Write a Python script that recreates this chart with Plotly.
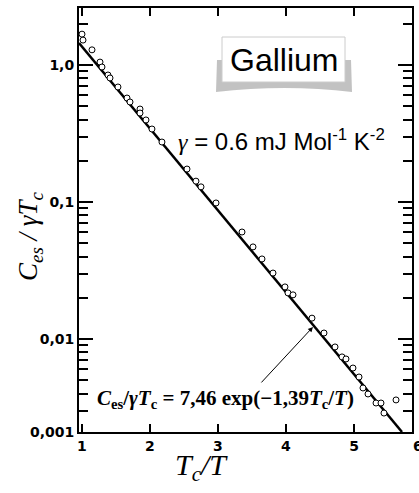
import math
import plotly.graph_objects as go

# ---- data ----
pts_x = [1.00, 1.015, 1.147, 1.265, 1.294, 1.382, 1.412, 1.529, 1.662, 1.706,
         1.853, 1.853, 1.941, 2.029, 2.176, 2.544, 2.676, 2.750, 2.971, 3.353,
         3.515, 3.647, 3.809, 3.985, 4.029, 4.103, 4.382, 4.559, 4.721, 4.824,
         4.882, 4.985, 5.074, 5.132, 5.206, 5.324, 5.397, 5.441, 5.618]
pts_y = [1.68, 1.52, 1.29, 1.05, 0.967, 0.845, 0.804, 0.691, 0.574, 0.537,
         0.477, 0.446, 0.397, 0.341, 0.274, 0.174, 0.142, 0.129, 0.0984, 0.0604,
         0.0470, 0.0384, 0.0303, 0.0240, 0.0217, 0.0210, 0.0142, 0.01106, 0.00875, 0.00740,
         0.00715, 0.00614, 0.00528, 0.00439, 0.00397, 0.00341, 0.00341, 0.00288, 0.00359]

fit_x = [0.956, 5.706]
fit_y = [1.447, 0.002095]

x_ticks = [1, 2, 3, 4, 5]
x_ticktext = ["1", "2", "3", "4", "5"]
y_ticks = [1.0, 0.1, 0.01, 0.002095]
y_ticktext = ["1,0", "0,1", "0,01", "0,001"]
y_minor = [2.0] + [m * 0.1 for m in range(2, 10)] + [m * 0.01 for m in range(2, 10)] + [m * 0.001 for m in range(3, 10)]

x_range = [0.956, 5.853]
y_range = [math.log10(0.002095), 0.416]

tick_font = dict(family="DejaVu Sans", size=14, color="black", weight="bold")

fig = go.Figure()
fig.add_trace(go.Scatter(x=fit_x, y=fit_y, mode="lines",
                         line=dict(color="black", width=2.5), showlegend=False))
fig.add_trace(go.Scatter(x=pts_x, y=pts_y, mode="markers",
                         marker=dict(symbol="circle", size=6, color="white",
                                     line=dict(color="black", width=1)),
                         showlegend=False))

fig.update_layout(
    width=419, height=493,
    margin=dict(l=79, r=7, t=8, b=61),
    paper_bgcolor="white", plot_bgcolor="white",
    showlegend=False, hovermode=False,
    xaxis=dict(range=x_range, tickmode="array", tickvals=x_ticks, ticktext=x_ticktext,
               ticks="inside", ticklen=8, tickwidth=1.5, tickcolor="black",
               showline=True, linecolor="black", linewidth=2, mirror="ticks",
               showgrid=False, zeroline=False, tickfont=tick_font, automargin=False),
    yaxis=dict(type="log", range=y_range, tickmode="array", tickvals=y_ticks, ticktext=y_ticktext,
               ticks="inside", ticklen=14, tickwidth=1.5, tickcolor="black",
               showline=True, linecolor="black", linewidth=2, mirror="ticks",
               showgrid=False, zeroline=False, tickfont=tick_font, automargin=False,
               minor=dict(tickmode="array", tickvals=y_minor, ticks="inside",
                          ticklen=9, tickwidth=1.5, tickcolor="black", showgrid=False)),
)

W0, W1, H0, H1 = 79, 412, 8, 432
def px(x):
    return (x - W0) / (W1 - W0)
def py(y):
    return (H1 - y) / (H1 - H0)

# Gallium box with shadow
fig.add_shape(type="path", xref="paper", yref="paper",
              path=f"M {px(217)},{py(60)} L {px(351)},{py(60)} L {px(352)},{py(92)} "
                   f"Q {px(285)},{py(84)} {px(216)},{py(92)} Z",
              fillcolor="rgba(120,120,120,0.45)", line=dict(width=0), layer="above")
fig.add_shape(type="rect", xref="paper", yref="paper",
              x0=px(222), x1=px(345), y0=py(82), y1=py(37),
              fillcolor="white", line=dict(color="#cccccc", width=1), layer="above")
fig.add_annotation(xref="paper", yref="paper", x=px(283.5), y=py(60),
                   xanchor="center", yanchor="middle",
                   text="Gallium", showarrow=False,
                   font=dict(family="Liberation Sans", size=32, color="black"))

# gamma text
fig.add_annotation(xref="paper", yref="paper", x=px(176), y=py(140),
                   xanchor="left", yanchor="middle",
                   text="<span style='font-family:Liberation Serif'><i>γ</i></span> = 0.6 mJ Mol<sup>-1</sup> K<sup>-2</sup>",
                   showarrow=False,
                   font=dict(family="Liberation Sans", size=24, color="black"))

# equation with arrow
fig.add_annotation(xref="paper", yref="paper", x=px(95), y=py(399),
                   xanchor="left", yanchor="middle",
                   text="<b><i>C</i><sub>es</sub>/<i>γT</i><sub>c</sub> = 7,46 exp(−1,39<i>T</i><sub>c</sub>/<i>T</i>)</b>",
                   showarrow=False,
                   font=dict(family="Liberation Serif", size=21, color="black"))
fig.add_annotation(x=4.397, y=-1.912, xref="x", yref="y",
                   ax=3.618, ay=-2.328, axref="x", ayref="y",
                   text="", showarrow=True, arrowhead=2, arrowsize=1, arrowwidth=1,
                   arrowcolor="black")

# extra cut-off "6" tick label
fig.add_annotation(xref="paper", yref="paper", x=px(418), y=py(436),
                   xanchor="center", yanchor="top",
                   text="6", showarrow=False, font=tick_font)

# axis titles
fig.add_annotation(xref="paper", yref="paper", x=px(201), y=py(467),
                   xanchor="center", yanchor="middle",
                   text="<i>T<sub>c</sub>/T</i>", showarrow=False,
                   font=dict(family="Liberation Serif", size=30, color="black"))
fig.add_annotation(xref="paper", yref="paper", x=px(30), y=py(237),
                   xanchor="center", yanchor="middle",
                   text="<i>C<sub>es</sub> / γT<sub>c</sub></i>", showarrow=False, textangle=-90,
                   font=dict(family="Liberation Serif", size=27, color="black"))

fig.write_html("out.html", post_script="document.body.style.margin='0px';",
               config={"displayModeBar": False})
